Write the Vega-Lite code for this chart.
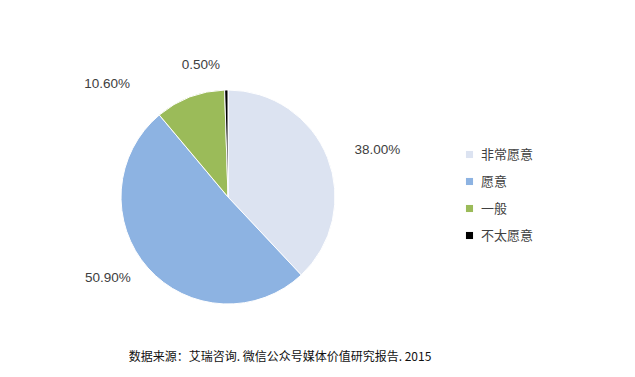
{
  "$schema": "https://vega.github.io/schema/vega-lite/v6.json",
  "width": 456,
  "height": 360,
  "autosize": {"type": "none"},
  "padding": {"left": 0, "top": 17, "right": 179, "bottom": 0},
  "background": "white",
  "config": {"view": {"stroke": null}, "font": "Liberation Sans"},
  "title": {
    "text": "数据来源：艾瑞咨询. 微信公众号媒体价值研究报告. 2015",
    "orient": "bottom",
    "anchor": "middle",
    "dx": 52,
    "offset": -25,
    "font": "Noto Sans CJK SC",
    "fontSize": 12,
    "fontWeight": "normal",
    "color": "#111111"
  },
  "data": {
    "values": [
      {"category": "非常愿意", "value": 38.0, "label": "38.00%", "order": 1},
      {"category": "愿意", "value": 50.9, "label": "50.90%", "order": 2},
      {"category": "一般", "value": 10.6, "label": "10.60%", "order": 3},
      {"category": "不太愿意", "value": 0.5, "label": "0.50%", "order": 4}
    ]
  },
  "encoding": {
    "theta": {"field": "value", "type": "quantitative", "stack": true},
    "order": {"field": "order", "type": "quantitative"}
  },
  "layer": [
    {
      "mark": {"type": "arc", "outerRadius": 107, "stroke": "#ffffff", "strokeWidth": 1},
      "encoding": {
        "color": {
          "field": "category",
          "type": "nominal",
          "sort": ["非常愿意", "愿意", "一般", "不太愿意"],
          "scale": {
            "domain": ["非常愿意", "愿意", "一般", "不太愿意"],
            "range": ["#dce3f1", "#8db3e2", "#9bbb59", "#000000"]
          },
          "legend": {
            "title": null,
            "orient": "none",
            "legendX": 463,
            "legendY": 131,
            "symbolType": "square",
            "symbolSize": 50,
            "symbolStrokeWidth": 0,
            "labelFont": "Noto Sans CJK SC",
            "labelFontSize": 13,
            "labelColor": "#404040",
            "labelOffset": 5,
            "rowPadding": 13
          }
        }
      }
    },
    {
      "mark": {"type": "text", "radius": 136, "align": "left", "baseline": "middle", "fontSize": 13.5, "color": "#404040", "dy": 3},
      "encoding": {
        "text": {"condition": {"test": "datum.category === '非常愿意'", "field": "label"}, "value": ""}
      }
    },
    {
      "mark": {"type": "text", "radius": 130, "align": "right", "baseline": "middle", "fontSize": 13.5, "color": "#404040", "dy": -5},
      "encoding": {
        "text": {"condition": {"test": "datum.category === '愿意'", "field": "label"}, "value": ""}
      }
    },
    {
      "mark": {"type": "text", "radius": 130, "align": "right", "baseline": "middle", "fontSize": 13.5, "color": "#404040", "dx": -6, "dy": -2},
      "encoding": {
        "text": {"condition": {"test": "datum.category === '不太愿意'", "field": "label"}, "value": ""}
      }
    },
    {
      "mark": {"type": "text", "radius": 132, "align": "right", "baseline": "middle", "fontSize": 13.5, "color": "#404040", "dx": -51, "dy": 10},
      "encoding": {
        "text": {"condition": {"test": "datum.category === '一般'", "field": "label"}, "value": ""}
      }
    }
  ]
}
